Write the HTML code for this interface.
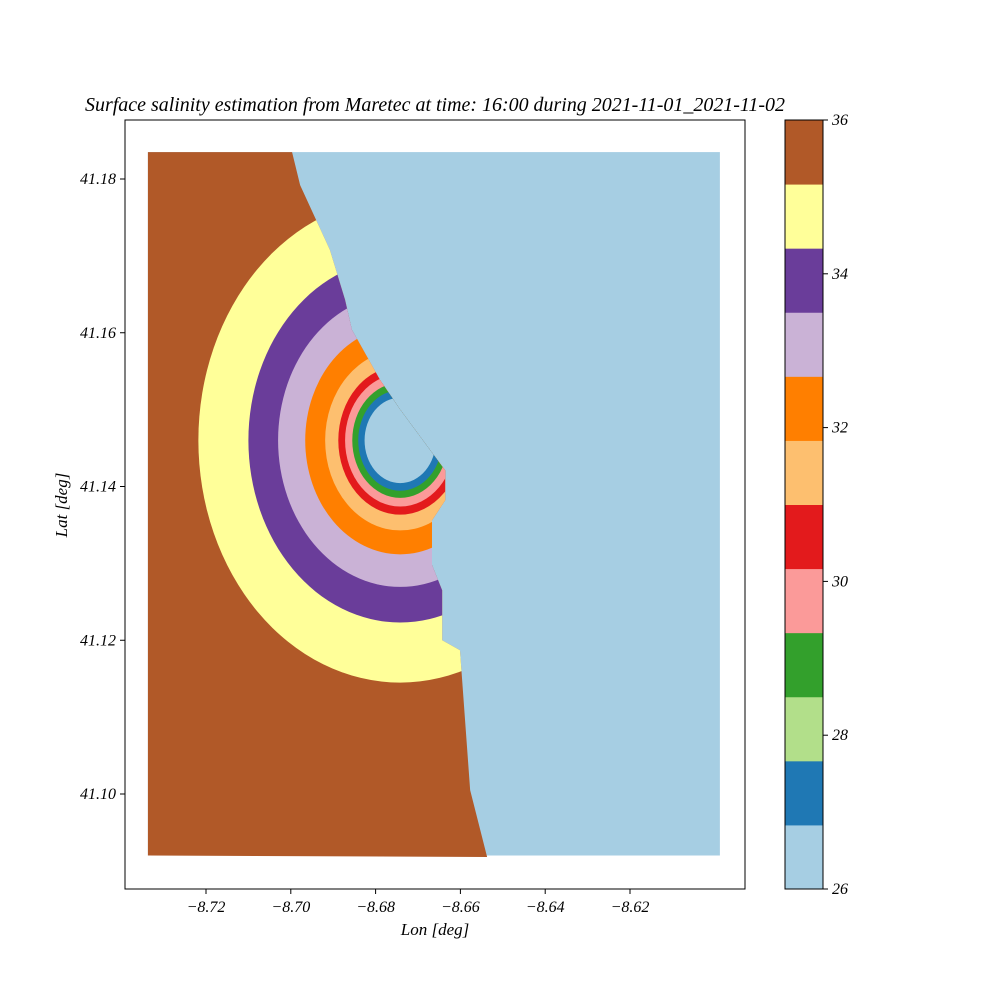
<!DOCTYPE html>
<html><head><meta charset="utf-8"><style>
body{margin:0;background:#fff}
svg text{font-family:"Liberation Serif",serif;font-style:italic}
</style></head><body>
<svg id="chart" width="1000" height="1000">
<rect width="1000" height="1000" fill="#fff"/>
</svg>
<script>
const levels=[26,27,28,29,30,31,32,33,34,35,36];
const colors=["#a6cee3","#1f78b4","#b2df8a","#33a02c","#fb9a99","#e31a1c","#fdbf6f","#ff7f00","#cab2d6","#6a3d9a","#ffff99","#b15928"];
const xTicks=[-8.72,-8.70,-8.68,-8.66,-8.64,-8.62];
const yTicks=[41.10,41.12,41.14,41.16,41.18];
const cbTicks=[26,28,30,32,34,36];
const frontLon=[-8.6997,-8.6978,-8.6908,-8.6872,-8.6856,-8.6790,-8.6742,-8.6636,-8.6636,-8.6667,-8.6667,-8.6643,-8.6643,-8.6601,-8.6589,-8.6577,-8.6537];
const frontLat=[41.1835,41.1792,41.1708,41.1643,41.1604,41.1539,41.1500,41.1421,41.1382,41.1356,41.1298,41.1265,41.1200,41.1187,41.1096,41.1005,41.0918];
const plumeCenter=[-8.6742,41.1460];
const bandRadii=[0.0476,0.0358,0.0288,0.0224,0.0177,0.0146,0.0130,0.0113,0.0099,0.0084];
const bandColorIdx=[10,9,8,7,6,5,4,3,1,0];
const domainLon=[-8.7337,-8.5988], domainLat=[41.092,41.1835];

const X=l=>206+(l+8.72)/0.02*84.8;
const Y=l=>179+(41.18-l)/0.02*153.75;
const NS="http://www.w3.org/2000/svg";
const svg=document.getElementById('chart');
function mk(t,a,p){const e=document.createElementNS(NS,t);for(const k in a)e.setAttribute(k,a[k]);(p||svg).appendChild(e);return e;}

const defs=mk('defs',{});
const cp=mk('clipPath',{id:'plumeclip'},defs);
let pts=frontLon.map((l,i)=>X(l)+','+Y(frontLat[i]));
pts.push(X(domainLon[0])+','+Y(domainLat[0]));pts.push(X(domainLon[0])+','+Y(domainLat[1]));
mk('polygon',{points:pts.join(' ')},cp);

const frame=mk('rect',{x:125,y:120,width:620,height:769,fill:'none',stroke:'#000','stroke-width':1});



const bg=mk('rect',{x:X(domainLon[0]),y:Y(domainLat[1]),width:X(domainLon[1])-X(domainLon[0]),height:Y(domainLat[0])-Y(domainLat[1]),fill:colors[0]});


const g=mk('g',{'clip-path':'url(#plumeclip)'});


const br=mk('rect',{x:0,y:0,width:1000,height:1000,fill:colors[11]},g);


const cx=X(plumeCenter[0]),cy=Y(plumeCenter[1]);
bandRadii.forEach((r,i)=>{
  const rx=r*4240;
  const e=mk('ellipse',{cx:cx,cy:cy,rx:rx,ry:rx*1.2,fill:colors[bandColorIdx[i]]},g);
  
  
});

xTicks.forEach(v=>{const x=X(v);
  mk('line',{x1:x,x2:x,y1:889,y2:894,stroke:'#000'});
  const t=mk('text',{x:x,y:912,'text-anchor':'middle','font-size':16});t.textContent='\u2212'+Math.abs(v).toFixed(2);
  
  
});
yTicks.forEach(v=>{const y=Y(v);
  mk('line',{x1:120,x2:125,y1:y,y2:y,stroke:'#000'});
  const t=mk('text',{x:116,y:y+5,'text-anchor':'end','font-size':16});t.textContent=v.toFixed(2);
  
  
});
let t=mk('text',{x:435,y:935,'text-anchor':'middle','font-size':17});t.textContent='Lon [deg]';

t=mk('text',{x:67,y:505,'text-anchor':'middle','font-size':17,transform:'rotate(-90 67 505)'});t.textContent='Lat [deg]';

t=mk('text',{x:435,y:111,'text-anchor':'middle','font-size':20,textLength:700,lengthAdjust:'spacingAndGlyphs'});t.textContent='Surface salinity estimation from Maretec at time: 16:00 during 2021-11-01_2021-11-02';


const cbTop=120,cbBot=889,cbX=785,cbW=38,n=colors.length;
const bh=(cbBot-cbTop)/n;
colors.forEach((c,i)=>{
  const r=mk('rect',{x:cbX,y:cbBot-(i+1)*bh,width:cbW,height:bh+0.5,fill:c});
  
  
});
const cbf=mk('rect',{x:cbX,y:cbTop,width:cbW,height:cbBot-cbTop,fill:'none',stroke:'#000'});

const cy2=v=>cbBot-(v-levels[0])/(levels[levels.length-1]-levels[0])*(cbBot-cbTop);
cbTicks.forEach(v=>{const y=cy2(v);
  mk('line',{x1:823,x2:828,y1:y,y2:y,stroke:'#000'});
  const tt=mk('text',{x:832,y:y+5,'font-size':16});tt.textContent=v;
  
  
});
</script>
</body></html>
